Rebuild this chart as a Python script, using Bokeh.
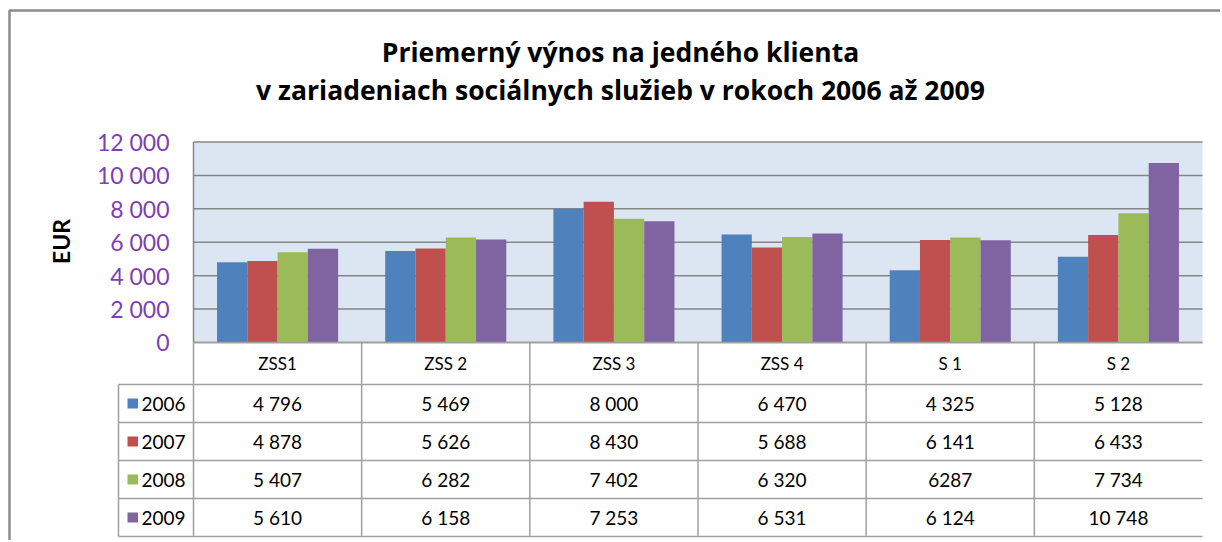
import numpy as np
from bokeh.plotting import figure
from bokeh.models import Range1d, ColumnDataSource
from bokeh.core.properties import value
from bokeh.embed import file_html
from bokeh.resources import INLINE

# ---------------- data ----------------
categories = ["ZSS1", "ZSS 2", "ZSS 3", "ZSS 4", "S 1", "S 2"]
years = ["2006", "2007", "2008", "2009"]
v2006 = [4796, 5469, 8000, 6470, 4325, 5128]
v2007 = [4878, 5626, 8430, 5688, 6141, 6433]
v2008 = [5407, 6282, 7402, 6320, 6287, 7734]
v2009 = [5610, 6158, 7253, 6531, 6124, 10748]
y_ticks = [0, 2000, 4000, 6000, 8000, 10000, 12000]
title_lines = ["Priemerný výnos na jedného klienta",
               "v zariadeniach sociálnych služieb v rokoch 2006 až 2009"]
y_label = "EUR"
no_sep_cells = [("2008", "S 1")]   # printed without thousands separator in source

series = [v2006, v2007, v2008, v2009]
colors = ["#4F81BD", "#C0504D", "#9BBB59", "#8064A2"]

# ---------------- layout (page pixels) ----------------
W, H = 1220, 540
M = 0
PX_LEFT, PX_RIGHT = 193, 1202
PY_TOP, PY_ZERO = 141.5, 342
YMAX = 12000
ncat = len(categories)
cat_px = (PX_RIGHT - PX_LEFT) / ncat
kpy = (PY_ZERO - PY_TOP) / YMAX


def dx(px):
    return (px - PX_LEFT) / cat_px


def dy(py):
    return (PY_ZERO - py) / kpy


FONT = "Lato"
TFONT = "Open Sans"

p = figure(width=W, height=H, output_backend="svg", toolbar_location=None,
           x_range=Range1d(dx(M), dx(M + W)), y_range=Range1d(dy(M + H), dy(M)),
           x_axis_location=None, y_axis_location=None, min_border=0)
p.outline_line_color = None
p.grid.visible = False
p.background_fill_color = "white"
p.border_fill_color = "white"

# outer chart border (left + top)
p.line(x=[dx(9), dx(9), dx(1300)], y=[dy(600), dy(10), dy(10)],
       line_color="#8C8C8C", line_width=2.5)

# plot area
p.quad(left=[0], right=[ncat], bottom=[0], top=[YMAX],
       fill_color="#DCE6F2", line_color=None)
p.segment(x0=[0] * len(y_ticks), x1=[ncat] * len(y_ticks), y0=y_ticks, y1=y_ticks,
          line_color="#868686", line_width=1.5)
p.segment(x0=[0], x1=[0], y0=[0], y1=[YMAX], line_color="#868686", line_width=1.5)

# bars
bar_w = 0.18
offsets = (np.arange(len(years)) - (len(years) - 1) / 2) * bar_w
centers = np.arange(ncat) + 0.5
for yr, vals, col, off in zip(years, series, colors, offsets):
    src = ColumnDataSource(dict(x=centers + off, top=vals, cat=categories))
    p.vbar(x="x", top="top", bottom=0, width=bar_w, source=src,
           fill_color=col, line_color=None)


def fmt(v):
    return f"{int(v):,}".replace(",", " ")


# y tick labels
p.text(x=[dx(169)] * len(y_ticks), y=y_ticks, text=[fmt(t) for t in y_ticks],
       text_align="right", text_baseline="middle", text_font=value(FONT),
       text_font_size="23px", text_color="#7E3FB3")

# y axis label
p.text(x=[dx(60)], y=[dy(241)], text=[y_label], angle=np.pi / 2,
       text_align="center", text_baseline="middle", text_font=value(FONT),
       text_font_size="23px", text_font_style="bold", text_color="black")

# title
p.text(x=[dx(620), dx(620)], y=[dy(51), dy(89)], text=title_lines,
       text_align="center", text_baseline="middle", text_font=value(TFONT),
       text_font_size="26.5px", text_font_style="bold", text_color="black")

# ---------------- data table ----------------
TBL_LEFT = 118
row_edges = [342, 384, 422, 460, 498, 536]
grid_col = "#A0A0A0"
hx0, hx1, hy = [], [], []
for i, ry in enumerate(row_edges):
    hx0.append(dx(PX_LEFT) if i == 0 else dx(TBL_LEFT))
    hx1.append(ncat)
    hy.append(dy(ry))
p.segment(x0=hx0, x1=hx1, y0=hy, y1=hy, line_color=grid_col, line_width=1.5)
vx = [dx(TBL_LEFT)] + list(range(ncat + 1))
vy0 = [dy(row_edges[1])] + [dy(row_edges[0])] * (ncat + 1)
vy1 = [dy(row_edges[-1])] * (ncat + 1)
p.segment(x0=vx, x1=vx, y0=vy0, y1=vy1, line_color=grid_col, line_width=1.5)

# header (categories)
p.text(x=list(centers), y=[dy((row_edges[0] + row_edges[1]) / 2)] * ncat,
       text=categories, text_align="center", text_baseline="middle",
       text_font=value(FONT), text_font_size="17px", text_color="black")

row_centers = [(row_edges[i] + row_edges[i + 1]) / 2 for i in range(1, 5)]
for yr, vals, col, rc in zip(years, series, colors, row_centers):
    cells = []
    for c, v in zip(categories, vals):
        cells.append(str(v) if (yr, c) in no_sep_cells else fmt(v))
    p.text(x=list(centers), y=[dy(rc)] * ncat, text=cells,
           text_align="center", text_baseline="middle",
           text_font=value(FONT), text_font_size="19px", text_color="black")
    p.quad(left=[dx(127)], right=[dx(137.5)], bottom=[dy(rc + 5)], top=[dy(rc - 5)],
           fill_color=col, line_color=None)
    p.text(x=[dx(141)], y=[dy(rc)], text=[yr], text_align="left",
           text_baseline="middle", text_font=value(FONT),
           text_font_size="19px", text_color="black")

open("out.html", "w").write(file_html(p, INLINE))
